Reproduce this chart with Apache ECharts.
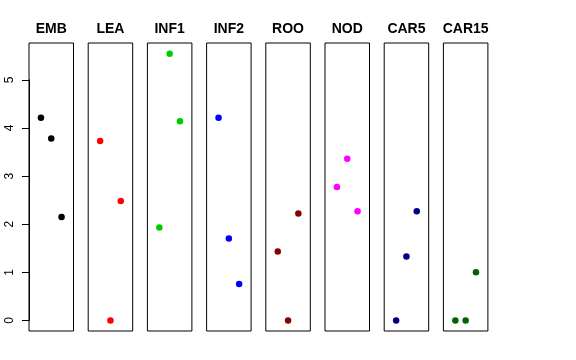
<!DOCTYPE html>
<html>
<head>
<meta charset="utf-8">
<script src="https://cdn.jsdelivr.net/npm/echarts@6/dist/echarts.min.js"></script>
<style>html,body{margin:0;padding:0;background:#fff}#c{width:576px;height:360px}</style>
</head>
<body>
<div id="c"></div>
<script>
// Panel names
var panels = ["EMB", "LEA", "INF1", "INF2", "ROO", "NOD", "CAR5", "CAR15"];
// x positions of the three points in each panel
var xPos = [1, 2, 3];
// values per panel (positions 1,2,3)
var EMB = [4.21, 3.78, 2.15];
var LEA = [3.73, 0, 2.48];
var INF1 = [1.93, 5.54, 4.14];
var INF2 = [4.21, 1.70, 0.755];
var ROO = [1.43, 0, 2.22];
var NOD = [2.77, 3.36, 2.27];
var CAR5 = [0, 1.33, 2.27];
var CAR15 = [0, 0, 1.00];
var yTickMin = 0, yTickMax = 5, yTickStep = 1;
var colors = ["#000000", "#FF0000", "#00CD00", "#0000FF", "#8B0000", "#FF00FF", "#000080", "#006400"];

var values = [EMB, LEA, INF1, INF2, ROO, NOD, CAR5, CAR15];

(function () {
  var yMin = -0.22, yMax = 5.765;
  var left0 = 29, step = 59.2, w = 44.5, gTop = 43, h = 288;
  var grids = [], xAxes = [], yAxes = [], series = [], titles = [];
  panels.forEach(function (name, i) {
    var L = left0 + i * step;
    grids.push({ left: L, top: gTop, width: w, height: h, show: true, borderColor: "#000", borderWidth: 1, backgroundColor: "transparent" });
    xAxes.push({ gridIndex: i, type: "value", min: -0.16, max: 4.16, show: false });
    yAxes.push({ gridIndex: i, type: "value", min: yMin, max: yMax, show: false });
    series.push({
      type: "scatter", xAxisIndex: i, yAxisIndex: i,
      symbol: "circle", symbolSize: 6.5,
      itemStyle: { color: colors[i], opacity: 1 },
      data: xPos.map(function (x, k) { return [x, values[i][k]]; }),
      silent: true
    });
    titles.push({
      text: name, left: L + w / 2, top: 22, textAlign: "center", padding: 0,
      textStyle: { fontSize: 14, fontWeight: "bold", color: "#000", fontFamily: "Liberation Sans, Arial, sans-serif" }
    });
  });

  // Extra grid that carries the y axis ticks (0..5) aligned to the first panel's scale
  var pxPerUnit = h / (yMax - yMin);
  var axTop = gTop + (yMax - yTickMax) * pxPerUnit;
  var axH = (yTickMax - yTickMin) * pxPerUnit;
  grids.push({ left: left0, top: axTop, width: w, height: axH, show: false });
  xAxes.push({ gridIndex: 8, type: "value", min: 0, max: 1, show: false });
  yAxes.push({
    gridIndex: 8, type: "value", min: yTickMin, max: yTickMax, interval: yTickStep,
    axisLine: { show: true, lineStyle: { color: "#000" } },
    splitLine: { show: false },
    axisTick: { show: true, length: 7, lineStyle: { color: "#000" } },
    axisLabel: { rotate: 90, margin: 13, color: "#000", fontSize: 12, fontFamily: "Liberation Sans, Arial, sans-serif" }
  });

  var chart = echarts.init(document.getElementById("c"), null, { renderer: "canvas" });
  chart.setOption({
    animation: false,
    title: titles,
    grid: grids,
    xAxis: xAxes,
    yAxis: yAxes,
    series: series
  });
})();
</script>
</body>
</html>
